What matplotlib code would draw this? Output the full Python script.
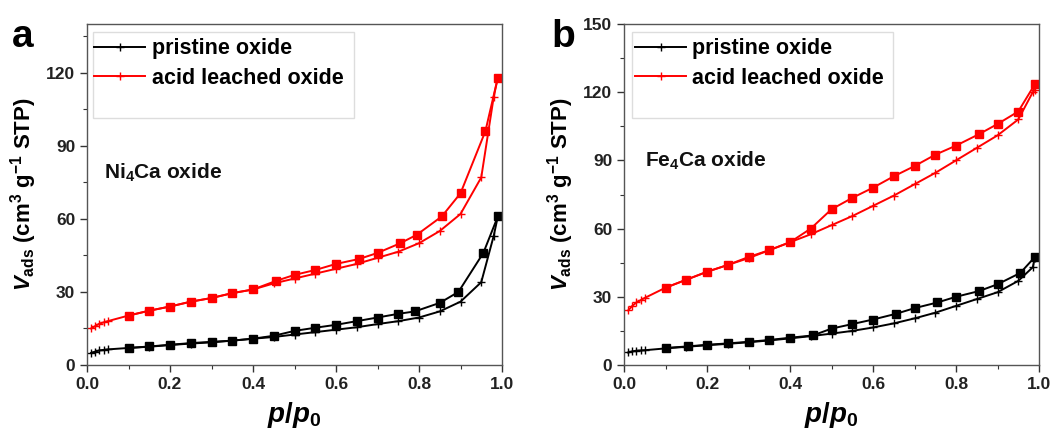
import matplotlib
matplotlib.use("Agg")
import matplotlib.pyplot as plt
from matplotlib.ticker import MultipleLocator
from matplotlib.patches import Rectangle

plt.rcParams['font.family'] = ['Liberation Sans', 'DejaVu Sans']
plt.rcParams['font.weight'] = 'bold'
plt.rcParams['axes.labelweight'] = 'bold'
plt.rcParams['mathtext.fontset'] = 'custom'
plt.rcParams['mathtext.rm'] = 'Liberation Sans:bold'
plt.rcParams['mathtext.it'] = 'Liberation Sans:bold:italic'
plt.rcParams['mathtext.bf'] = 'Liberation Sans:bold'

# ---------------- data ----------------
# Panel a (Ni4Ca oxide)
a_ads_p = [0.01, 0.02, 0.03, 0.04, 0.05, 0.1, 0.15, 0.2, 0.25, 0.3, 0.35, 0.4, 0.45, 0.5,
           0.55, 0.6, 0.65, 0.7, 0.75, 0.8, 0.85, 0.9, 0.95, 0.98, 0.99]
a_pris_ads = [5.0, 5.5, 6.0, 6.2, 6.4, 7.0, 7.5, 8.2, 8.8, 9.3, 10.0, 10.8, 11.5, 12.5,
              13.5, 14.5, 15.5, 16.8, 18.0, 19.5, 22.0, 26.0, 34.0, 53.0, 61.0]
a_acid_ads = [15.0, 16.0, 17.0, 17.5, 18.0, 20.3, 22.3, 24.0, 26.0, 27.5, 29.5, 31.0, 33.5, 35.5,
              37.5, 39.5, 41.5, 44.0, 46.5, 50.0, 55.0, 62.0, 77.0, 110.0, 118.0]
a_pris_des_p = [0.99, 0.955, 0.895, 0.85, 0.79, 0.75, 0.7, 0.65, 0.6, 0.55, 0.5, 0.45,
                0.4, 0.35, 0.3, 0.25, 0.2, 0.15, 0.1]
a_pris_des = [61.0, 46.0, 30.0, 25.5, 22.0, 21.0, 19.5, 18.0, 16.5, 15.3, 14.0, 12.0,
              10.8, 10.0, 9.5, 9.0, 8.3, 7.6, 7.0]
a_acid_des_p = [0.99, 0.96, 0.9, 0.855, 0.795, 0.755, 0.7, 0.655, 0.6, 0.55, 0.5, 0.455,
                0.4, 0.35, 0.3, 0.25, 0.2, 0.15, 0.1]
a_acid_des = [118.0, 96.0, 70.5, 61.0, 53.5, 50.0, 46.0, 43.5, 41.5, 39.0, 37.0, 34.5,
              31.0, 29.5, 27.5, 26.0, 24.0, 22.3, 20.3]

# Panel b (Fe4Ca oxide)
b_ads_p = [0.01, 0.02, 0.03, 0.04, 0.05, 0.1, 0.15, 0.2, 0.25, 0.3, 0.35, 0.4, 0.45, 0.5,
           0.55, 0.6, 0.65, 0.7, 0.75, 0.8, 0.85, 0.9, 0.95, 0.985, 0.99]
b_pris_ads = [5.5, 6.0, 6.3, 6.4, 6.5, 7.3, 8.0, 8.7, 9.3, 10.0, 10.8, 11.7, 12.7, 13.8,
              15.0, 16.5, 18.3, 20.5, 23.0, 26.0, 29.0, 32.0, 37.0, 43.0, 47.0]
b_acid_ads = [24.0, 26.0, 27.5, 28.5, 29.5, 34.0, 37.5, 41.0, 44.0, 47.0, 50.5, 54.0, 57.5, 61.5,
              65.5, 70.0, 74.5, 79.5, 84.5, 90.0, 95.5, 101.0, 108.0, 120.0, 121.0]
b_pris_des_p = [0.99, 0.955, 0.9, 0.855, 0.8, 0.755, 0.7, 0.655, 0.6, 0.55, 0.5, 0.455,
                0.4, 0.35, 0.3, 0.25, 0.2, 0.155, 0.1]
b_pris_des = [47.5, 40.5, 35.5, 32.5, 30.0, 27.5, 25.0, 22.5, 20.0, 18.0, 16.0, 13.0,
              12.0, 11.0, 10.2, 9.5, 8.9, 8.2, 7.5]
b_acid_des_p = [0.99, 0.95, 0.9, 0.855, 0.8, 0.75, 0.7, 0.65, 0.6, 0.55, 0.5, 0.45,
                0.4, 0.35, 0.3, 0.25, 0.2, 0.15, 0.1]
b_acid_des = [123.5, 111.5, 106.0, 101.5, 96.5, 92.5, 87.5, 83.0, 78.0, 73.5, 68.5, 60.0,
              54.0, 50.5, 47.5, 44.0, 41.0, 37.5, 34.0]

labels = ["pristine oxide", "acid leached oxide"]
panel_letters = ["a", "b"]
sample_names = ["Ni$_4$Ca oxide", "Fe$_4$Ca oxide"]
ylims = [140, 150]
yticks = [[0, 30, 60, 90, 120], [0, 30, 60, 90, 120, 150]]

# ---------------- figure ----------------
fig = plt.figure(figsize=(10.64, 4.30), dpi=100)
W, H = 1064, 430
axes_px = [(87, 24, 502, 365), (624, 24, 1039, 365)]

panels = [
    (a_ads_p, a_pris_ads, a_acid_ads, a_pris_des_p, a_pris_des, a_acid_des_p, a_acid_des),
    (b_ads_p, b_pris_ads, b_acid_ads, b_pris_des_p, b_pris_des, b_acid_des_p, b_acid_des),
]
text_pos = [(0.04, 79), (0.05, 90)]
letter_px = [(23, 37), (563, 37)]
legbox = [(0.014, 0.724, 0.629, 0.253), (0.019, 0.724, 0.630, 0.253)]
leganchor = [(0.018, 0.958), (0.027, 0.958)]

for i, (ads_p, pris_ads, acid_ads, pd_p, pd, ad_p, ad) in enumerate(panels):
    l, t, r, b = axes_px[i]
    ax = fig.add_axes([l / W, 1 - b / H, (r - l) / W, (b - t) / H])
    ax.plot(ads_p, pris_ads, color='black', lw=1.4, marker='+', ms=6, mew=1.0, label=labels[0])
    ax.plot(pd_p, pd, color='black', lw=1.4, marker='s', ms=5.5)
    ax.plot(ads_p, acid_ads, color='red', lw=1.4, marker='+', ms=6, mew=1.0, label=labels[1])
    ax.plot(ad_p, ad, color='red', lw=1.4, marker='s', ms=5.5)

    ax.set_xlim(0, 1.0)
    ax.set_ylim(0, ylims[i])
    ax.set_yticks(yticks[i])
    ax.xaxis.set_major_locator(MultipleLocator(0.2))
    ax.xaxis.set_minor_locator(MultipleLocator(0.1))
    ax.yaxis.set_minor_locator(MultipleLocator(15))
    ax.xaxis.set_major_formatter(matplotlib.ticker.FormatStrFormatter('%.1f'))
    ax.tick_params(which='both', direction='out', top=False, right=False, colors='#333333',
                   labelsize=12.5, labelcolor='#222222')
    ax.tick_params(which='major', length=5, width=1)
    ax.tick_params(which='minor', length=3, width=0.8)
    for s in ax.spines.values():
        s.set_color('#555555')
        s.set_linewidth(1.0)
    for lab in ax.get_xticklabels() + ax.get_yticklabels():
        lab.set_fontweight('bold')

    ax.set_xlabel('$p/p_0$', fontsize=20, labelpad=6)
    ax.set_ylabel('$V_{\\rm ads}$ (cm$^3$ g$^{-1}$ STP)', fontsize=16, fontweight='bold', labelpad=5)

    bx, by, bw, bh = legbox[i]
    ax.add_patch(Rectangle((bx, by), bw, bh, transform=ax.transAxes, facecolor='white',
                           edgecolor='#dddddd', lw=1.0, zorder=3))
    leg = ax.legend(loc='upper left', bbox_to_anchor=leganchor[i], fontsize=15.5, frameon=False,
                    borderaxespad=0.0, borderpad=0.0, handlelength=2.35, handletextpad=0.3,
                    labelspacing=0.38)
    leg.set_zorder(4)

    ax.text(text_pos[i][0], text_pos[i][1], sample_names[i], fontsize=15,
            fontweight='bold', ha='left', va='center', color='#111111')
    fig.text(letter_px[i][0] / W, 1 - letter_px[i][1] / H, panel_letters[i],
             fontsize=28, fontweight='bold', ha='center', va='center')

fig.savefig('out.png', dpi=100)
